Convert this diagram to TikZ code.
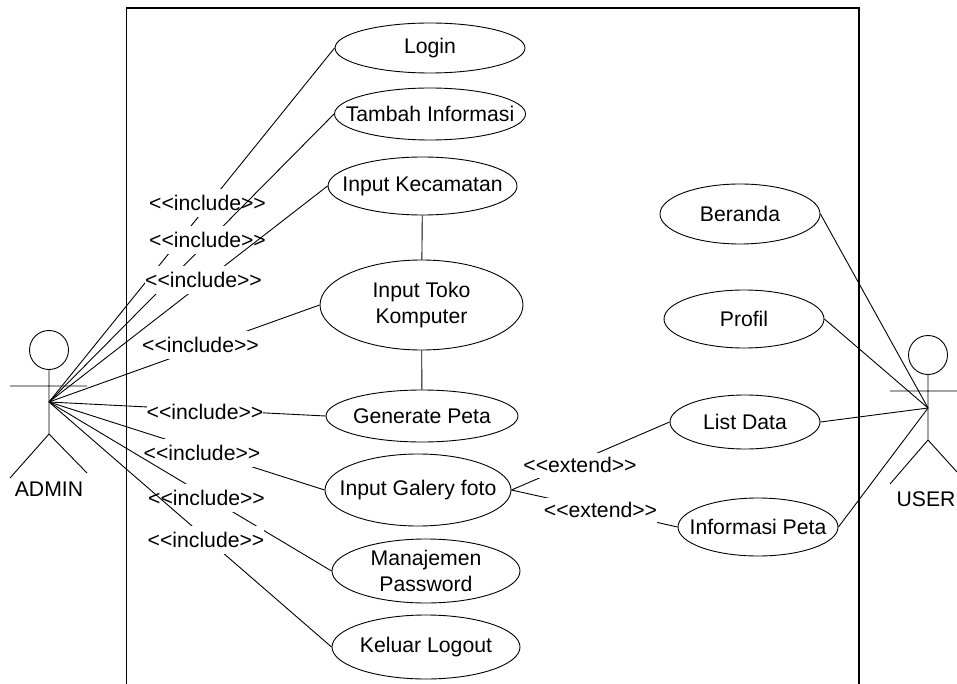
\documentclass[tikz,border=0pt]{standalone}
\usepackage{fontspec}
\setmainfont{Liberation Sans}
\usetikzlibrary{shapes.geometric}
\tikzset{
  every picture/.style={x=1pt,y=-1pt},
  usecase/.style={draw=black,ellipse,line width=0.9pt,inner xsep=-70pt,inner ysep=-30pt,align=center,fill=white},
  lbl/.style={fill=white,inner sep=0pt,minimum height=28pt,font=\fontsize{21.2}{24}\selectfont},
  xlbl/.style={lbl,minimum height=25pt},
  txt/.style={font=\fontsize{21.2}{26}\selectfont},
  conn/.style={line width=0.9pt,draw=black},
  actor/.style={line width=0.9pt,draw=black},
}
\newcommand{\uc}[6]{\node[usecase,txt,minimum width=#4pt,minimum height=#5pt] (#1) at (#2,#3) {#6};}
\begin{document}
\begin{tikzpicture}
\useasboundingbox (0,0) rectangle (957,684);
\fill[white] (0,0) rectangle (957,684);
\draw[line width=1.9pt] (126.5,684) -- (126.5,8) -- (859,8) -- (859,684);
% hubs
\coordinate (ah) at (49,402);
\coordinate (uh) at (928,408);
% use cases
\uc{login}{430}{48}{190}{50}{Login}
\uc{tambah}{430}{114}{191}{52}{Tambah Informasi}
\uc{kec}{422.5}{186}{189}{58}{Input Kecamatan}
\uc{toko}{421.5}{305}{203}{90}{Input Toko\\Komputer}
\uc{gen}{422}{416}{192}{52}{Generate Peta}
\uc{gal}{418}{490}{186}{72}{Input Galery foto}
\uc{man}{426}{571}{188}{64}{Manajemen\\Password}
\uc{kel}{426}{647}{188}{64}{Keluar Logout}
\uc{ber}{740}{214}{160}{60}{Beranda}
\uc{pro}{744}{319}{160}{58}{Profil}
\uc{lis}{745}{422}{150}{54}{List Data}
\uc{inf}{758}{527}{160}{58}{Informasi Peta}
% stacked connectors and labels
\draw[conn] (ah) -- (login.west);
\node[lbl] (i1) at (207.5,203) {<{}<include>{}>};
\draw[conn] (ah) -- (tambah.west);
\node[lbl] (i2) at (207.5,240) {<{}<include>{}>};
\draw[conn] (ah) -- (kec.west);
\node[lbl] (i3) at (203.5,280) {<{}<include>{}>};
\draw[conn] (ah) -- (toko.west);
\node[lbl] (i4) at (200.5,345) {<{}<include>{}>};
\draw[conn] (ah) -- (gen.west);
\node[lbl] (i5) at (205,412) {<{}<include>{}>};
\draw[conn] (ah) -- (gal.west);
\node[lbl] (i6) at (202,453) {<{}<include>{}>};
\draw[conn] (ah) -- (man.west);
\node[lbl] (i7) at (206.5,498) {<{}<include>{}>};
\draw[conn] (ah) -- (kel.west);
\node[lbl] (i8) at (206,540) {<{}<include>{}>};
\draw[conn] (kec) -- (toko);
\draw[conn] (toko) -- (gen);
\draw[conn] (gal.east) -- (lis.west);
\draw[conn] (gal.east) -- (inf.west);
\node[xlbl] (e1) at (580,465) {<{}<extend>{}>};
\node[xlbl] (e2) at (600.5,510) {<{}<extend>{}>};
\draw[conn] (ber.east) -- (uh);
\draw[conn] (pro.east) -- (uh);
\draw[conn] (lis.east) -- (uh);
\draw[conn] (inf.east) -- (uh);
% actors
\node[draw,circle,line width=0.9pt,minimum size=39pt,inner sep=0pt] (ahead) at (49,350) {};
\coordinate (afoot) at (49,434);
\coordinate (al) at (10,386);
\coordinate (ar) at (87,386);
\coordinate (all) at (10,478);
\coordinate (arl) at (87,473);
\draw[actor] (ahead) -- (afoot) (al) -- (ar) (all) -- (afoot) -- (arl);
\node[txt,inner sep=0pt] (aname) at (49,489) {ADMIN};
\node[draw,circle,line width=0.9pt,minimum size=39pt,inner sep=0pt] (uhead) at (928,355) {};
\coordinate (ufoot) at (928,440);
\coordinate (ul) at (890,391);
\coordinate (ur) at (957,391);
\coordinate (ull) at (890,484);
\coordinate (url) at (957,472);
\draw[actor] (uhead) -- (ufoot) (ul) -- (ur) (ull) -- (ufoot) -- (url);
\node[txt,inner sep=0pt] (uname) at (926,499) {USER};
\end{tikzpicture}
\end{document}
